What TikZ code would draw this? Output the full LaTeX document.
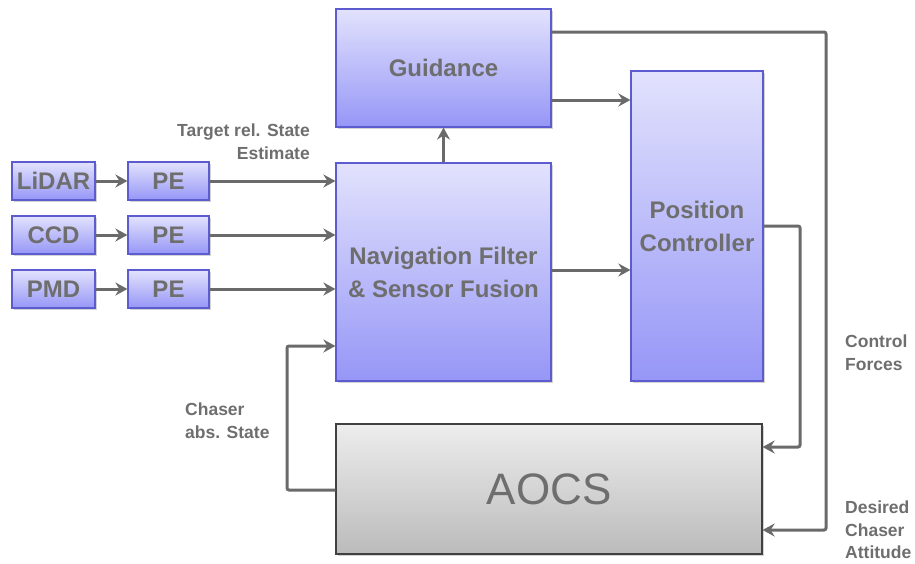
\documentclass[tikz,border=0pt]{standalone}
\usepackage{fontspec}
\setmainfont{Liberation Sans}
\usetikzlibrary{arrows.meta,shadows}
\definecolor{txtgray}{HTML}{6E6E6E}
\definecolor{linegray}{HTML}{6A6A6A}
\definecolor{blueTop}{HTML}{E2E2FD}
\definecolor{blueBot}{HTML}{9696F7}
\definecolor{blueEdge}{HTML}{5C5CD0}
\definecolor{grayTop}{HTML}{EDEDED}
\definecolor{grayBot}{HTML}{BBBBBB}
\tikzset{
  bluebox/.style={draw=blueEdge, line width=1.2pt, top color=blueTop, bottom color=blueBot,
    drop shadow={shadow xshift=1.5pt, shadow yshift=-1.5pt, opacity=0.35},
    text=txtgray, font=\bfseries\fontsize{24}{33}\selectfont, align=center, inner sep=0pt},
  graybox/.style={draw=black!75, line width=1.2pt, top color=grayTop, bottom color=grayBot,
    drop shadow={shadow xshift=1.5pt, shadow yshift=-1.5pt, opacity=0.35},
    text=txtgray, font=\fontsize{44}{50}\selectfont, inner sep=0pt},
  flow/.style={draw=linegray, line width=3pt, rounded corners=2pt,
    -{Stealth[length=12pt,width=13pt,inset=4pt]}},
  sig/.style={text=txtgray, font=\bfseries\fontsize{17.5}{22.5}\selectfont, inner sep=0pt}
}
\begin{document}
\begin{tikzpicture}[x=1pt,y=-1pt]
\useasboundingbox (0,0) rectangle (915,563);

% main blocks
\node[bluebox, minimum width=215pt, minimum height=118pt] (guid) at (443.5,68) {Guidance};
\node[bluebox, minimum width=215pt, minimum height=218pt] (nav) at (443.5,272) {Navigation Filter\\\& Sensor Fusion};
\node[bluebox, minimum width=132pt, minimum height=310pt] (pos) at (697,226) {Position\\Controller};
\node[graybox, minimum width=426pt, minimum height=130pt] (aocs) at (549,489) {AOCS};

% sensors and pose estimators
\node[bluebox, minimum width=83pt, minimum height=38pt] (lidar) at (53.5,181) {LiDAR};
\node[bluebox, minimum width=83pt, minimum height=38pt] (ccd) at (53.5,235) {CCD};
\node[bluebox, minimum width=83pt, minimum height=38pt] (pmd) at (53.5,289) {PMD};
\node[bluebox, minimum width=81pt, minimum height=38pt] (pe1) at (168.5,181) {PE};
\node[bluebox, minimum width=81pt, minimum height=38pt] (pe2) at (168.5,235) {PE};
\node[bluebox, minimum width=81pt, minimum height=38pt] (pe3) at (168.5,289) {PE};

% signal labels
\node[sig, anchor=north east, align=right] (lblT) at (310,124) {Target rel. State\\Estimate};
\node[sig, anchor=north west, align=left] (lblC) at (185,403) {Chaser\\abs. State};
\node[sig, anchor=north west, align=left] (lblF) at (845,335) {Control\\Forces};
\node[sig, anchor=north west, align=left] (lblA) at (845,501) {Desired\\Chaser\\Attitude};

% routing points
\coordinate (gr) at (826,32);
\coordinate (pr) at (800,226);
\coordinate (al) at (287,490);

% connectors
\draw[flow] (lidar.east) -- (pe1.west);
\draw[flow] (ccd.east) -- (pe2.west);
\draw[flow] (pmd.east) -- (pe3.west);
\draw[flow] (pe1.east) -- (pe1.east -| nav.west);
\draw[flow] (pe2.east) -- (pe2.east -| nav.west);
\draw[flow] (pe3.east) -- (pe3.east -| nav.west);
\draw[flow] (nav.north) -- (guid.south);
\draw[flow] (guid.east |- 0,100) -- (pos.west |- 0,100);
\draw[flow] (nav.east |- 0,270) -- (pos.west |- 0,270);
\draw[flow] (guid.east |- gr) -- (gr) -- (gr |- 0,530) -- (aocs.east |- 0,530);
\draw[flow] (pos.east |- pr) -- (pr) -- (pr |- 0,447) -- (aocs.east |- 0,447);
\draw[flow] (aocs.west |- al) -- (al) -- (al |- 0,346) -- (nav.west |- 0,346);
\end{tikzpicture}
\end{document}
